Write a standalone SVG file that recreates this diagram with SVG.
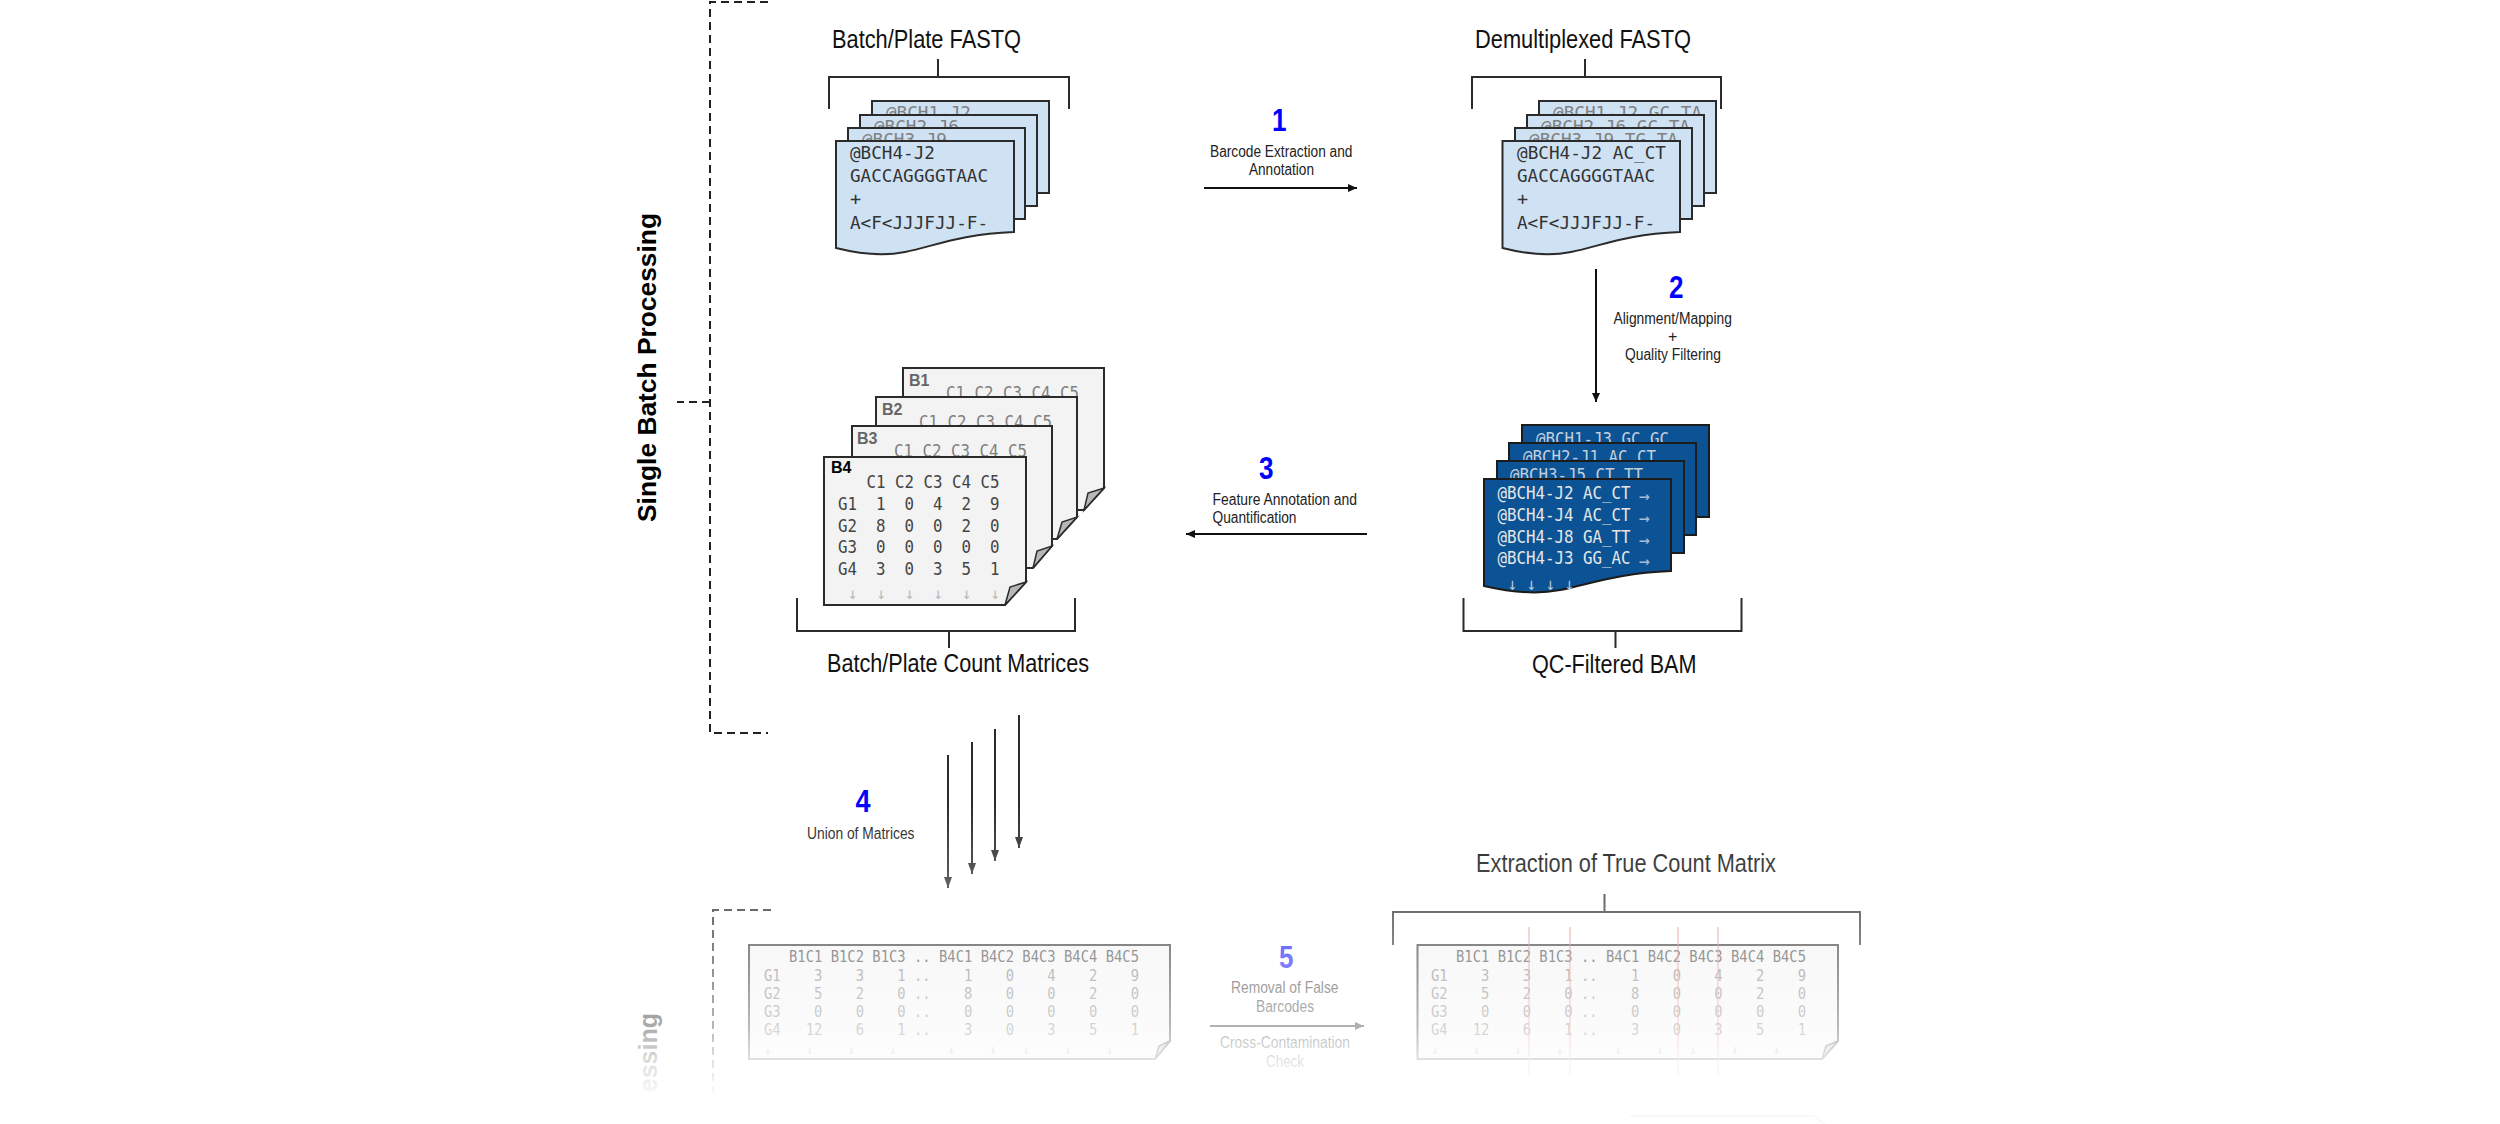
<svg xmlns="http://www.w3.org/2000/svg" width="2500" height="1124" viewBox="0 0 2500 1124">
<style>
text{font-family:"Liberation Sans",Arial,sans-serif;white-space:pre}
.title{font-size:25px;fill:#111}
.label{font-size:16px;fill:#222}
.num{font-size:31px;font-weight:700;fill:#0000ff}
.side{font-size:25px;font-weight:700;fill:#000}
.m{font-family:"DejaVu Sans Mono","Liberation Mono",monospace}
.fq{font-size:18.5px;fill:#333}
.fqb{font-size:18.5px;fill:#808080}
.bam{font-size:18.5px;fill:#e6e6e6}
.bamb{font-size:18.5px;fill:#c4cfdb}
.arr{font-size:17px;fill:#b8c6d6}
.arrw{font-size:18px;fill:#a9bcd2}
.cell{font-size:17px;fill:#444}
.cellb{font-size:17px;fill:#808080}
.dn{font-size:16px;fill:#bbb}
.bl{font-size:16px;font-weight:700;fill:#000}
.blb{font-size:16px;font-weight:700;fill:#666}
.mh{font-size:15.5px;fill:#3a3a3a}
.mr{font-size:15.5px;fill:#777}
.ma{font-size:13px;fill:#aaa}
.fastq{fill:#cfe2f3;stroke:#2b2b2b;stroke-width:2}
.bamsheet{fill:#0b5394;stroke:#1c1c1c;stroke-width:2}
.mat{fill:#f3f3f3;stroke:#2b2b2b;stroke-width:2}
.fold{fill:#b7b7b7;stroke:#2b2b2b;stroke-width:1.5}
.br{fill:none;stroke:#2b2b2b;stroke-width:2}
.dash{fill:none;stroke:#222;stroke-width:2;stroke-dasharray:8 5}
.conn{fill:none;stroke:#111;stroke-width:2}
.conn4{fill:none;stroke:#2a2a2a;stroke-width:2}
.red{stroke:#e06666;stroke-width:2;opacity:.45}
</style>
<defs>
<marker id="ah" markerUnits="userSpaceOnUse" markerWidth="10" markerHeight="10" refX="9" refY="5" orient="auto"><path d="M0 1 L9 5 L0 9 Z" fill="#111"/></marker>
<marker id="ahl" markerUnits="userSpaceOnUse" markerWidth="12" markerHeight="10" refX="11" refY="5" orient="auto"><path d="M0 1 L11 5 L0 9 Z" fill="#2a2a2a"/></marker>
<linearGradient id="fade" gradientUnits="userSpaceOnUse" x1="0" y1="800" x2="0" y2="1100">
<stop offset="0" stop-color="#fff" stop-opacity="0"/>
<stop offset=".527" stop-color="#fff" stop-opacity=".47"/>
<stop offset=".753" stop-color="#fff" stop-opacity=".67"/>
<stop offset=".867" stop-color="#fff" stop-opacity=".86"/>
<stop offset="1" stop-color="#fff" stop-opacity="1"/>
</linearGradient>
</defs>
<rect width="2500" height="1124" fill="#fff"/>

<g id="single-batch-frame">
<path class="dash" d="M768 2H710V733H768"/>
<path class="dash" d="M710 402H677"/>
<text class="side" transform="translate(656,522) rotate(-90)" textLength="309" lengthAdjust="spacingAndGlyphs">Single Batch Processing</text>
</g>

<g id="batch-fastq">
<text class="title" x="832" y="48" textLength="189" lengthAdjust="spacingAndGlyphs">Batch/Plate FASTQ</text>
<path class="br" d="M829 109V77H1069V109M938 59V77"/>
<rect class="fastq" x="872" y="101" width="177" height="92"/>
<text class="m fqb" x="886" y="119" textLength="85" lengthAdjust="spacingAndGlyphs">@BCH1-J2</text>
<rect class="fastq" x="860" y="115" width="177" height="91"/>
<text class="m fqb" x="874" y="133" textLength="85" lengthAdjust="spacingAndGlyphs">@BCH2-J6</text>
<rect class="fastq" x="848" y="128" width="177" height="91"/>
<text class="m fqb" x="862" y="146" textLength="85" lengthAdjust="spacingAndGlyphs">@BCH3-J9</text>
<path class="fastq" d="M836 141H1014V232C960 234 935 246 905 252C885 256 860 254 836 248Z"/>
<text class="m fq" x="850" y="159" textLength="85" lengthAdjust="spacingAndGlyphs">@BCH4-J2</text>
<text class="m fq" x="850" y="182" textLength="138" lengthAdjust="spacingAndGlyphs">GACCAGGGGTAAC</text>
<text class="m fq" x="850" y="205">+</text>
<text class="m fq" x="850" y="229" textLength="138" lengthAdjust="spacingAndGlyphs">A&lt;F&lt;JJJFJJ-F-</text>
</g>

<g id="demux-fastq">
<text class="title" x="1475" y="48" textLength="216" lengthAdjust="spacingAndGlyphs">Demultiplexed FASTQ</text>
<path class="br" d="M1472 109V77H1721V109M1585 59V77"/>
<rect class="fastq" x="1539" y="101" width="177" height="92"/>
<text class="m fqb" x="1553" y="119" textLength="149" lengthAdjust="spacingAndGlyphs">@BCH1-J2 GC_TA</text>
<rect class="fastq" x="1527" y="115" width="177" height="91"/>
<text class="m fqb" x="1541" y="133" textLength="149" lengthAdjust="spacingAndGlyphs">@BCH2-J6 GC_TA</text>
<rect class="fastq" x="1515" y="128" width="177" height="91"/>
<text class="m fqb" x="1529" y="146" textLength="149" lengthAdjust="spacingAndGlyphs">@BCH3-J9 TG_TA</text>
<path class="fastq" d="M1502.500 141H1680V232C1626 234 1601 246 1571 252C1551 256 1526 254 1502.500 248Z"/>
<text class="m fq" x="1517" y="159" textLength="149" lengthAdjust="spacingAndGlyphs">@BCH4-J2 AC_CT</text>
<text class="m fq" x="1517" y="182" textLength="138" lengthAdjust="spacingAndGlyphs">GACCAGGGGTAAC</text>
<text class="m fq" x="1517" y="205">+</text>
<text class="m fq" x="1517" y="229" textLength="138" lengthAdjust="spacingAndGlyphs">A&lt;F&lt;JJJFJJ-F-</text>
</g>

<g id="qc-bam">
<rect class="bamsheet" x="1522" y="425" width="187" height="92"/>
<text class="m bamb" x="1536" y="445" textLength="133" lengthAdjust="spacingAndGlyphs">@BCH1-J3 GC_GC</text>
<rect class="bamsheet" x="1509" y="443" width="187" height="92"/>
<text class="m bamb" x="1523" y="463" textLength="133" lengthAdjust="spacingAndGlyphs">@BCH2-J1 AC_CT</text>
<rect class="bamsheet" x="1497" y="461" width="187" height="92"/>
<text class="m bamb" x="1510" y="481" textLength="133" lengthAdjust="spacingAndGlyphs">@BCH3-J5 CT_TT</text>
<path class="bamsheet" d="M1484 479H1671V571C1618 573 1590 584 1560 590C1535 595 1510 592 1484 586Z"/>
<text class="m bam" x="1497.500" y="499" textLength="133" lengthAdjust="spacingAndGlyphs">@BCH4-J2 AC_CT</text>
<text class="m bam" x="1497.500" y="521" textLength="133" lengthAdjust="spacingAndGlyphs">@BCH4-J4 AC_CT</text>
<text class="m bam" x="1497.500" y="543" textLength="133" lengthAdjust="spacingAndGlyphs">@BCH4-J8 GA_TT</text>
<text class="m bam" x="1497.500" y="564" textLength="133" lengthAdjust="spacingAndGlyphs">@BCH4-J3 GG_AC</text>
<text class="m arrw" x="1639" y="502" textLength="11" lengthAdjust="spacingAndGlyphs">→</text>
<text class="m arrw" x="1639" y="524" textLength="11" lengthAdjust="spacingAndGlyphs">→</text>
<text class="m arrw" x="1639" y="546" textLength="11" lengthAdjust="spacingAndGlyphs">→</text>
<text class="m arrw" x="1639" y="567" textLength="11" lengthAdjust="spacingAndGlyphs">→</text>
<text class="m arr" x="1507.500" y="590" textLength="66.500" lengthAdjust="spacingAndGlyphs">↓ ↓ ↓ ↓</text>
<path class="br" d="M1463.500 598V631H1741.500V598M1615.500 631V648"/>
<text class="title" x="1532" y="673" textLength="164.500" lengthAdjust="spacingAndGlyphs">QC-Filtered BAM</text>
</g>

<g id="count-matrices">
<path class="mat" d="M903 368H1104V488L1084 510H903Z"/><path class="fold" d="M1104 488L1084 510L1088 493Z"/>
<text class="blb" x="909" y="386">B1</text>
<text class="m cellb" x="917.500" y="399" textLength="161.500" lengthAdjust="spacingAndGlyphs">   C1 C2 C3 C4 C5</text>
<path class="mat" d="M876 397H1077V517L1057 539H876Z"/><path class="fold" d="M1077 517L1057 539L1062 522Z"/>
<text class="blb" x="882" y="415">B2</text>
<text class="m cellb" x="890.500" y="428" textLength="161.500" lengthAdjust="spacingAndGlyphs">   C1 C2 C3 C4 C5</text>
<path class="mat" d="M852 426H1052V546L1033 568H852Z"/><path class="fold" d="M1052 546L1033 568L1037 551Z"/>
<text class="blb" x="857" y="444">B3</text>
<text class="m cellb" x="865.500" y="457" textLength="161.500" lengthAdjust="spacingAndGlyphs">   C1 C2 C3 C4 C5</text>
<path class="mat" d="M824 457H1026V582L1005 605H824Z"/><path class="fold" d="M1026 582L1005 605L1010 587Z"/>
<text class="bl" x="831" y="473">B4</text>
<text class="m cell" x="838" y="488" textLength="161.500" lengthAdjust="spacingAndGlyphs">   C1 C2 C3 C4 C5</text>
<text class="m cell" x="838" y="510" textLength="161.500" lengthAdjust="spacingAndGlyphs">G1  1  0  4  2  9</text>
<text class="m cell" x="838" y="532" textLength="161.500" lengthAdjust="spacingAndGlyphs">G2  8  0  0  2  0</text>
<text class="m cell" x="838" y="553" textLength="161.500" lengthAdjust="spacingAndGlyphs">G3  0  0  0  0  0</text>
<text class="m cell" x="838" y="575" textLength="161.500" lengthAdjust="spacingAndGlyphs">G4  3  0  3  5  1</text>
<text class="m dn" x="848" y="599" textLength="152" lengthAdjust="spacingAndGlyphs">↓  ↓  ↓  ↓  ↓  ↓</text>
<path class="br" d="M797 598V631H1075V598M949 631V648"/>
<text class="title" x="827" y="672" textLength="262" lengthAdjust="spacingAndGlyphs">Batch/Plate Count Matrices</text>
</g>

<g id="connectors">
<path class="conn" d="M1204 188H1357" marker-end="url(#ah)"/>
<path class="conn" d="M1596 269V402" marker-end="url(#ah)"/>
<path class="conn" d="M1367 534H1186" marker-end="url(#ah)"/>
<path class="conn4" d="M948 755V888" marker-end="url(#ahl)"/>
<path class="conn4" d="M972 742V874" marker-end="url(#ahl)"/>
<path class="conn4" d="M995 729V861" marker-end="url(#ahl)"/>
<path class="conn4" d="M1019 715V848" marker-end="url(#ahl)"/>
<path class="conn" d="M1210 1026H1364" marker-end="url(#ah)"/>
</g>

<g id="step-1">
<text class="num" x="1272" y="131" textLength="14.500" lengthAdjust="spacingAndGlyphs">1</text>
<text class="label" x="1210" y="157" textLength="142.500" lengthAdjust="spacingAndGlyphs">Barcode Extraction and</text>
<text class="label" x="1249" y="175" textLength="65" lengthAdjust="spacingAndGlyphs">Annotation</text>
</g>
<g id="step-2">
<text class="num" x="1669" y="298" textLength="14.500" lengthAdjust="spacingAndGlyphs">2</text>
<text class="label" x="1613.500" y="324" textLength="118.500" lengthAdjust="spacingAndGlyphs">Alignment/Mapping</text>
<text class="label" x="1668" y="342">+</text>
<text class="label" x="1625" y="360" textLength="96" lengthAdjust="spacingAndGlyphs">Quality Filtering</text>
</g>
<g id="step-3">
<text class="num" x="1259" y="479" textLength="14.500" lengthAdjust="spacingAndGlyphs">3</text>
<text class="label" x="1212.500" y="505" textLength="144.500" lengthAdjust="spacingAndGlyphs">Feature Annotation and</text>
<text class="label" x="1212.500" y="523" textLength="84" lengthAdjust="spacingAndGlyphs">Quantification</text>
</g>
<g id="step-4">
<text class="num" x="855.500" y="812" textLength="15" lengthAdjust="spacingAndGlyphs">4</text>
<text class="label" x="807" y="839" textLength="107.500" lengthAdjust="spacingAndGlyphs">Union of Matrices</text>
</g>
<g id="step-5">
<text class="num" x="1279" y="968" textLength="14.500" lengthAdjust="spacingAndGlyphs">5</text>
<text class="label" x="1231" y="993" textLength="107.500" lengthAdjust="spacingAndGlyphs">Removal of False</text>
<text class="label" x="1256" y="1012" textLength="58" lengthAdjust="spacingAndGlyphs">Barcodes</text>
<text class="label" x="1220" y="1048" textLength="130" lengthAdjust="spacingAndGlyphs">Cross-Contamination</text>
<text class="label" x="1266" y="1067" textLength="38" lengthAdjust="spacingAndGlyphs">Check</text>
</g>

<g id="multi-batch-frame">
<path class="dash" d="M771 910H713V1105"/>
<text class="side" transform="translate(656.500,1013) rotate(-90)" text-anchor="end">essing</text>
</g>

<g id="union-matrix">
<path class="mat" d="M749 945H1170V1041L1155 1059H749Z"/><path class="fold" d="M1170 1041L1155 1059L1159 1046Z"/>
<text class="m mh" x="764" y="962" textLength="375" lengthAdjust="spacingAndGlyphs">   B1C1 B1C2 B1C3 .. B4C1 B4C2 B4C3 B4C4 B4C5</text>
<text class="m mr" x="764" y="981" textLength="375" lengthAdjust="spacingAndGlyphs">G1    3    3    1 ..    1    0    4    2    9</text>
<text class="m mr" x="764" y="999" textLength="375" lengthAdjust="spacingAndGlyphs">G2    5    2    0 ..    8    0    0    2    0</text>
<text class="m mr" x="764" y="1017" textLength="375" lengthAdjust="spacingAndGlyphs">G3    0    0    0 ..    0    0    0    0    0</text>
<text class="m mr" x="764" y="1035" textLength="375" lengthAdjust="spacingAndGlyphs">G4   12    6    1 ..    3    0    3    5    1</text>
<text class="m ma" x="764" y="1054" textLength="350" lengthAdjust="spacingAndGlyphs">↓    ↓    ↓    ↓      ↓    ↓   ↓    ↓    ↓</text>
</g>

<g id="true-matrix">
<text class="title" x="1476" y="872" textLength="300" lengthAdjust="spacingAndGlyphs">Extraction of True Count Matrix</text>
<path class="br" d="M1393 945V912H1860V945M1604.500 894V912"/>
<path class="mat" d="M1417.500 945H1838V1041L1822 1059H1417.500Z"/><path class="fold" d="M1838 1041L1822 1059L1826 1046Z"/>
<text class="m mh" x="1431" y="962" textLength="375" lengthAdjust="spacingAndGlyphs">   B1C1 B1C2 B1C3 .. B4C1 B4C2 B4C3 B4C4 B4C5</text>
<text class="m mr" x="1431" y="981" textLength="375" lengthAdjust="spacingAndGlyphs">G1    3    3    1 ..    1    0    4    2    9</text>
<text class="m mr" x="1431" y="999" textLength="375" lengthAdjust="spacingAndGlyphs">G2    5    2    0 ..    8    0    0    2    0</text>
<text class="m mr" x="1431" y="1017" textLength="375" lengthAdjust="spacingAndGlyphs">G3    0    0    0 ..    0    0    0    0    0</text>
<text class="m mr" x="1431" y="1035" textLength="375" lengthAdjust="spacingAndGlyphs">G4   12    6    1 ..    3    0    3    5    1</text>
<text class="m ma" x="1431" y="1054" textLength="350" lengthAdjust="spacingAndGlyphs">↓    ↓    ↓    ↓      ↓    ↓   ↓    ↓    ↓</text>
<path class="red" d="M1529 927V1076M1570 927V1076M1678 927V1076M1718 927V1076"/>
</g>

<rect id="fade-overlay" x="0" y="800" width="2500" height="324" fill="url(#fade)"/>
<path id="next-sheet-edge" d="M1630 1116H1813L1825 1124" fill="none" stroke="#f8f8f8" stroke-width="1.500"/>
</svg>
